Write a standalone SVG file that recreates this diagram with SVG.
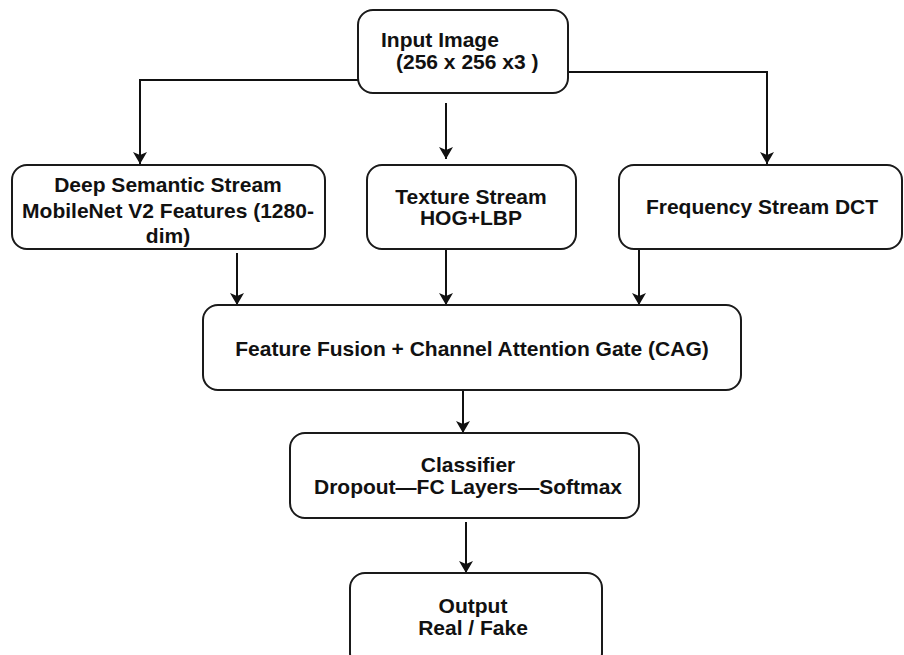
<svg xmlns="http://www.w3.org/2000/svg" width="904" height="655" viewBox="0 0 904 655">
  <style>
    .box { fill: #ffffff; stroke: #1a1a1a; stroke-width: 2; }
    .lbl { font-family: "Liberation Sans", Arial, sans-serif; font-weight: bold; font-size: 21px; fill: #111111; }
    .mid { text-anchor: middle; }
    .wire { fill: none; stroke: #111111; stroke-width: 2; marker-end: url(#arrow); }
  </style>
  <defs>
    <marker id="arrow" viewBox="0 0 12 14" refX="12" refY="7" markerWidth="12" markerHeight="14" markerUnits="userSpaceOnUse" orient="auto">
      <path d="M0,0 L12,7 L0,14 L3,7 z" fill="#111111"/>
    </marker>
  </defs>
  <rect width="904" height="655" fill="#ffffff"/>

  <!-- connectors -->
  <g id="connectors">
    <polyline class="wire" points="358,80 140,80 140,164"/>
    <line class="wire" x1="446" y1="103" x2="446" y2="159"/>
    <polyline class="wire" points="568,72 767,72 767,164"/>
    <line class="wire" x1="237" y1="253" x2="237" y2="305"/>
    <line class="wire" x1="446" y1="249" x2="446" y2="305"/>
    <line class="wire" x1="639" y1="249" x2="639" y2="305"/>
    <line class="wire" x1="463" y1="390" x2="463" y2="433"/>
    <line class="wire" x1="466" y1="522" x2="466" y2="573"/>
  </g>

  <!-- nodes -->
  <g id="input">
    <rect class="box" x="358" y="10" width="210" height="83" rx="15"/>
    <text class="lbl" x="381" y="47">Input Image</text>
    <text class="lbl" x="396" y="69">(256 x 256 x3 )</text>
  </g>

  <g id="deep-stream">
    <rect class="box" x="12" y="165" width="313" height="84" rx="15"/>
    <text class="lbl mid" x="168" y="192">Deep Semantic Stream</text>
    <text class="lbl mid" x="168" y="218">MobileNet V2 Features (1280-</text>
    <text class="lbl mid" x="168" y="243">dim)</text>
  </g>

  <g id="texture-stream">
    <rect class="box" x="367" y="165" width="209" height="84" rx="15"/>
    <text class="lbl mid" x="471" y="204">Texture Stream</text>
    <text class="lbl mid" x="471" y="225">HOG+LBP</text>
  </g>

  <g id="frequency-stream">
    <rect class="box" x="619" y="165" width="283" height="84" rx="15"/>
    <text class="lbl mid" x="762" y="214">Frequency Stream DCT</text>
  </g>

  <g id="fusion">
    <rect class="box" x="203" y="305" width="538" height="85" rx="15"/>
    <text class="lbl mid" x="472" y="356">Feature Fusion + Channel Attention Gate (CAG)</text>
  </g>

  <g id="classifier">
    <rect class="box" x="290" y="433" width="349" height="85" rx="15"/>
    <text class="lbl mid" x="468" y="472">Classifier</text>
    <text class="lbl mid" x="468" y="494">Dropout—FC Layers—Softmax</text>
  </g>

  <g id="output">
    <rect class="box" x="350" y="573" width="252" height="95" rx="15"/>
    <text class="lbl mid" x="473" y="613">Output</text>
    <text class="lbl mid" x="473" y="635">Real / Fake</text>
  </g>
</svg>
